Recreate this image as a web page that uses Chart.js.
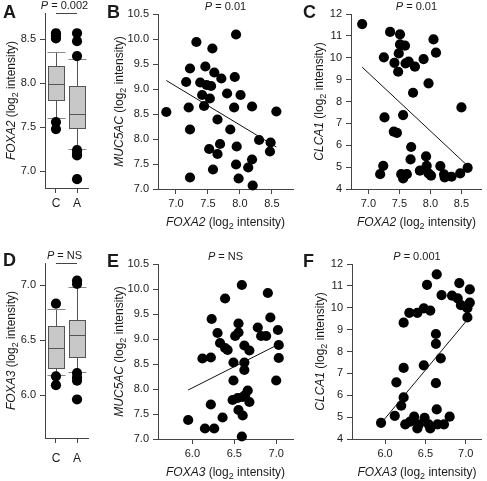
<!DOCTYPE html>
<html>
<head>
<meta charset="utf-8">
<script src="https://cdn.jsdelivr.net/npm/chart.js@4.4.0/dist/chart.umd.min.js"></script>
<style>
  body { margin: 0; background: #fff; }
  #wrap { position: relative; width: 487px; height: 481px; overflow: hidden; }
  canvas { position: absolute; }
</style>
</head>
<body>
<div id="wrap">
  <canvas id="cA" width="110" height="240" style="left:0;top:0"></canvas>
  <canvas id="cB" width="200" height="240" style="left:100px;top:0"></canvas>
  <canvas id="cC" width="187" height="240" style="left:300px;top:0"></canvas>
  <canvas id="cD" width="110" height="241" style="left:0;top:240px"></canvas>
  <canvas id="cE" width="200" height="241" style="left:100px;top:240px"></canvas>
  <canvas id="cF" width="187" height="241" style="left:300px;top:240px"></canvas>
</div>
<script>
// box plot groups: [low whisker, q1, median, q3, high whisker]
const groups = ['C', 'A'];
const foxa2BoxC = [7.61, 7.81, 7.99, 8.20, 8.36];
const foxa2BoxA = [7.25, 7.49, 7.65, 7.97, 8.28];
const foxa2OutC = [8.57, 8.54, 8.51, 7.56, 7.48];
const foxa2OutA = [8.57, 8.48, 8.31, 7.24, 7.20, 7.18, 6.91];
const foxa3BoxC = [6.18, 6.25, 6.43, 6.63, 6.78];
const foxa3BoxA = [6.21, 6.35, 6.55, 6.68, 6.98];
const foxa3OutC = [6.83, 6.17, 6.09];
const foxa3OutA = [7.04, 7.01, 6.20, 6.16, 6.13, 5.96];

// B: FOXA2 vs MUC5AC
const bFoxa2  = [6.85, 7.32, 7.94, 7.57, 7.22, 7.46, 7.60, 7.16, 7.38, 7.48, 7.55, 7.71, 7.92, 7.41, 7.53, 7.80, 8.01, 7.20, 7.44, 7.91,
                 8.19, 8.57, 7.65, 7.22, 7.85, 8.30, 8.48, 8.47, 7.52, 7.69, 7.65, 7.95, 7.94, 7.58, 8.19, 8.13, 7.22, 7.98, 8.20];
const bMuc5ac = [8.54, 9.94, 10.09, 9.81, 9.41, 9.45, 9.33, 9.14, 9.13, 9.08, 9.06, 9.21, 9.24, 8.88, 8.81, 8.91, 8.88, 8.63, 8.66, 8.63,
                 8.65, 8.55, 8.39, 8.19, 8.19, 7.98, 7.93, 7.75, 7.80, 7.90, 7.70, 7.85, 7.49, 7.39, 7.59, 7.43, 7.23, 7.21, 7.07];
const bFitX = [6.85, 8.57];
const bFitY = [9.17, 7.84];

// C: FOXA2 vs CLCA1
const cFoxa2 = [6.90, 7.35, 7.51, 8.05, 7.51, 7.59, 7.49, 8.09, 7.25, 7.42, 7.60, 7.65, 7.89, 7.48, 7.75, 7.97, 7.72, 8.50, 7.26, 7.56,
                7.41, 7.46, 7.69, 7.68, 7.93, 7.24, 7.19, 7.94, 8.16, 8.60, 7.53, 7.56, 7.62, 7.83, 7.97, 8.01, 8.22, 8.23, 8.34, 8.48];
const cClca1 = [11.54, 11.18, 11.07, 10.84, 10.61, 10.55, 10.20, 10.23, 10.02, 9.77, 9.74, 9.82, 9.94, 9.36, 9.59, 8.83, 8.40, 7.73, 7.27, 7.38,
                6.62, 6.57, 5.92, 5.35, 5.49, 5.06, 4.68, 5.06, 5.05, 4.97, 4.68, 4.48, 4.68, 4.84, 4.71, 4.61, 4.67, 4.53, 4.56, 4.71];
const cFitX = [6.90, 8.60];
const cFitY = [9.57, 5.06];

// E: FOXA3 vs MUC5AC
const eFoxa3  = [5.95, 6.15, 6.26, 6.36, 6.22, 6.12, 6.22, 6.23, 6.30, 6.33, 6.39, 6.42, 6.39, 6.59, 6.55, 6.51, 6.55, 6.49, 6.49, 6.48,
                 6.54, 6.60, 6.63, 6.66, 6.68, 6.55, 6.60, 6.59, 6.62, 6.62, 6.62, 6.68, 6.78, 6.82, 6.88, 6.90, 6.93, 7.02, 7.03, 7.03, 7.00];
const eMuc5ac = [7.38, 7.21, 7.21, 7.43, 7.69, 8.61, 8.63, 9.40, 9.12, 8.92, 8.82, 8.78, 9.81, 10.08, 9.31, 9.06, 9.13, 8.53, 8.17, 7.78,
                 7.82, 7.84, 7.88, 7.97, 7.74, 7.58, 7.47, 7.05, 8.53, 8.38, 8.87, 8.77, 9.23, 9.06, 9.06, 9.92, 9.43, 9.18, 8.88, 8.62, 8.17];
const eFitX = [5.95, 7.00];
const eFitY = [7.98, 8.87];

// F: FOXA3 vs CLCA1
const fFoxa3 = [5.95, 6.12, 6.14, 6.20, 6.23, 6.23, 6.23, 6.25, 6.31, 6.36, 6.30, 6.40, 6.40, 6.42, 6.48, 6.56, 6.52, 6.48, 6.49, 6.54,
                6.56, 6.63, 6.63, 6.63, 6.64, 6.64, 6.65, 6.69, 6.70, 6.73, 6.80, 6.83, 6.90, 6.92, 7.05, 7.05, 6.94, 7.02, 7.02];
const fClca1 = [4.74, 5.06, 6.59, 5.52, 5.90, 7.25, 9.32, 4.67, 4.79, 5.02, 9.77, 9.77, 4.48, 4.67, 9.97, 9.87, 11.05, 7.37, 4.97, 4.67,
                4.48, 8.80, 8.35, 6.55, 11.53, 5.35, 4.67, 7.69, 10.58, 4.67, 5.02, 10.55, 10.43, 11.13, 10.84, 10.23, 10.12, 9.98, 9.56];
const fFitX = [5.95, 7.02];
const fFitY = [4.72, 9.45];

// tick labels
const foxa2Ticks  = [7.0, 7.5, 8.0, 8.5];
const foxa3Ticks  = [6.0, 6.5, 7.0];
const muc5acTicks = [7.0, 7.5, 8.0, 8.5, 9.0, 9.5, 10.0, 10.5];
const clca1Ticks  = [4, 5, 6, 7, 8, 9, 10, 11, 12];
const groupTicks  = [1, 2];

const FONT = '"Liberation Sans", Arial, Helvetica, sans-serif';
const INK = '#1a1a1a';
const AXIS = '#444';

function pts(xs, ys) {
    return xs.map((x, i) => ({ x: x, y: ys[i] }));
}

// draw text made of italic / normal / subscript runs, centred on (x, y)
function rich(ctx, parts, x, y, size, vertical) {
    ctx.save();
    ctx.translate(x, y);
    if (vertical) ctx.rotate(-Math.PI / 2);
    const fonts = parts.map(p => (p.i ? 'italic ' : '') + (p.sub ? Math.round(size * 0.72) : size) + 'px ' + FONT);
    let w = 0;
    parts.forEach((p, k) => { ctx.font = fonts[k]; w += ctx.measureText(p.t).width; });
    let cx = -w / 2;
    ctx.textBaseline = 'middle';
    ctx.textAlign = 'left';
    ctx.fillStyle = INK;
    parts.forEach((p, k) => {
        ctx.font = fonts[k];
        ctx.fillText(p.t, cx, p.sub ? size * 0.32 : 0);
        cx += ctx.measureText(p.t).width;
    });
    ctx.restore();
}

function titleParts(gene) {
    return [{ t: gene, i: true }, { t: ' (log' }, { t: '2', sub: true }, { t: ' intensity)' }];
}

function linAxis(min, max, ticks, fmt, size, vertical) {
    return {
        type: 'linear',
        min: min,
        max: max,
        afterBuildTicks: s => { s.ticks = ticks.map(v => ({ value: v })); },
        afterFit: s => { if (vertical) s.width = size; else s.height = size; },
        grid: { drawOnChartArea: false, drawTicks: true, tickLength: 5, tickColor: AXIS, lineWidth: 1 },
        border: { display: true, color: AXIS, width: 1 },
        ticks: {
            color: INK, font: { family: FONT, size: 11 }, padding: vertical ? 4 : 3,
            callback: fmt, autoSkip: false, maxRotation: 0, minRotation: 0
        }
    };
}

// labels: panel letter, P value, axis titles
function textPlugin(o) {
    return {
        id: 'panelText',
        afterDraw(chart) {
            const ctx = chart.ctx, a = chart.chartArea;
            ctx.save();
            ctx.fillStyle = INK;
            ctx.font = 'bold 18px ' + FONT;
            ctx.textAlign = 'left';
            ctx.textBaseline = 'alphabetic';
            ctx.fillText(o.letter, o.letterX, o.letterY);
            let px = (a.left + a.right) / 2;
            if (o.bracket) {
                const x1 = chart.scales.x.getPixelForValue(o.bracket[0]);
                const x2 = chart.scales.x.getPixelForValue(o.bracket[1]);
                ctx.strokeStyle = AXIS;
                ctx.lineWidth = 1;
                ctx.beginPath();
                ctx.moveTo(x1, a.top + 0.5);
                ctx.lineTo(x2, a.top + 0.5);
                ctx.stroke();
                px = (x1 + x2) / 2 - 2;
            }
            rich(ctx, [{ t: 'P', i: true }, { t: ' = ' + o.p }], px, a.top - 7, 11, false);
            if (o.xGene) rich(ctx, titleParts(o.xGene), (a.left + a.right) / 2, a.bottom + 34, 12, false);
            rich(ctx, titleParts(o.yGene), a.left - o.yDx, (a.top + a.bottom) / 2, 12, true);
            ctx.restore();
        }
    };
}

function boxPlugin(boxes) {
    return {
        id: 'boxPlot',
        beforeDatasetsDraw(chart) {
            const ctx = chart.ctx, xs = chart.scales.x, ys = chart.scales.y;
            boxes.forEach((b, i) => {
                const px = Math.round(xs.getPixelForValue(i + 1)) + 0.5;
                const [lo, q1, med, q3, hi] = b.map(v => Math.round(ys.getPixelForValue(v)) + 0.5);
                const hw = 8;
                ctx.save();
                ctx.lineWidth = 1;
                ctx.strokeStyle = '#555';
                ctx.beginPath();
                ctx.moveTo(px, hi); ctx.lineTo(px, q3);
                ctx.moveTo(px, q1); ctx.lineTo(px, lo);
                ctx.stroke();
                ctx.strokeStyle = '#888';
                ctx.beginPath();
                ctx.moveTo(px - hw - 1, hi); ctx.lineTo(px + hw + 1, hi);
                ctx.moveTo(px - hw - 1, lo); ctx.lineTo(px + hw + 1, lo);
                ctx.stroke();
                ctx.fillStyle = '#c8c8c8';
                ctx.fillRect(px - hw, q3, hw * 2, q1 - q3);
                ctx.strokeStyle = '#555';
                ctx.strokeRect(px - hw, q3, hw * 2, q1 - q3);
                ctx.beginPath();
                ctx.moveTo(px - hw, med); ctx.lineTo(px + hw, med);
                ctx.stroke();
                ctx.restore();
            });
        }
    };
}

function dots(data) {
    return { data: data, pointRadius: 5.1, pointHoverRadius: 5.1, backgroundColor: '#000', borderWidth: 0, clip: false };
}

function fit(xs, ys) {
    return { data: pts(xs, ys), showLine: true, borderColor: '#111', borderWidth: 1, pointRadius: 0, clip: false };
}

// p: panel geometry in page pixels; area = plot area in page pixels
function makePanel(id, p, datasets, xScale, yScale, extraPlugins) {
    const xH = 30;
    return new Chart(document.getElementById(id), {
        type: 'scatter',
        data: { datasets: datasets },
        options: {
            responsive: false,
            animation: false,
            events: [],
            layout: {
                padding: {
                    left: 0,
                    top: p.area.t - p.top,
                    right: p.left + p.w - p.area.r,
                    bottom: p.top + p.h - p.area.b - xH
                }
            },
            plugins: { legend: { display: false }, tooltip: { enabled: false } },
            scales: { x: xScale(xH), y: yScale(p.area.l - p.left) }
        },
        plugins: extraPlugins
    });
}

const f1 = v => v.toFixed(1);
const f0 = v => v.toFixed(0);
const fg = v => groups[v - 1];

// A
makePanel('cA', { left: 0, top: 0, w: 110, h: 240, area: { l: 45, r: 88, t: 13, b: 188 } },
    [dots(foxa2OutC.map(v => ({ x: 1, y: v })).concat(foxa2OutA.map(v => ({ x: 2, y: v }))))],
    h => { const s = linAxis(0.48, 2.52, groupTicks, fg, h, false); s.ticks.font.size = 12; return s; },
    w => linAxis(6.81, 8.8, foxa2Ticks, f1, w, true),
    [boxPlugin([foxa2BoxC, foxa2BoxA]), textPlugin({ letter: 'A', letterX: 3, letterY: 18, p: '0.002', bracket: [1, 2], yGene: 'FOXA2', yDx: 33 })]);

// B
makePanel('cB', { left: 100, top: 0, w: 200, h: 240, area: { l: 158, r: 293, t: 14, b: 189 } },
    [fit(bFitX, bFitY), dots(pts(bFoxa2, bMuc5ac))],
    h => linAxis(6.72, 8.83, foxa2Ticks, f1, h, false),
    w => linAxis(7, 10.5, muc5acTicks, f1, w, true),
    [textPlugin({ letter: 'B', letterX: 7, letterY: 18, p: '0.01', xGene: 'FOXA2', yGene: 'MUC5AC', yDx: 38 })]);

// C
makePanel('cC', { left: 300, top: 0, w: 187, h: 240, area: { l: 351, r: 486, t: 14, b: 189 } },
    [fit(cFitX, cFitY), dots(pts(cFoxa2, cClca1))],
    h => linAxis(6.72, 8.83, foxa2Ticks, f1, h, false),
    w => linAxis(4, 12, clca1Ticks, f0, w, true),
    [textPlugin({ letter: 'C', letterX: 3, letterY: 18, p: '0.01', xGene: 'FOXA2', yGene: 'CLCA1', yDx: 31 })]);

// D
makePanel('cD', { left: 0, top: 240, w: 110, h: 241, area: { l: 45, r: 88, t: 263, b: 438 } },
    [dots(foxa3OutC.map(v => ({ x: 1, y: v })).concat(foxa3OutA.map(v => ({ x: 2, y: v }))))],
    h => { const s = linAxis(0.48, 2.52, groupTicks, fg, h, false); s.ticks.font.size = 12; s.ticks.padding = 8; return s; },
    w => linAxis(5.61, 7.2, foxa3Ticks, f1, w, true),
    [boxPlugin([foxa3BoxC, foxa3BoxA]), textPlugin({ letter: 'D', letterX: 3, letterY: 26, p: 'NS', bracket: [1, 2], yGene: 'FOXA3', yDx: 33 })]);

// E
makePanel('cE', { left: 100, top: 240, w: 200, h: 241, area: { l: 158, r: 293, t: 264, b: 439 } },
    [fit(eFitX, eFitY), dots(pts(eFoxa3, eMuc5ac))],
    h => linAxis(5.59, 7.2, foxa3Ticks, f1, h, false),
    w => linAxis(7, 10.5, muc5acTicks, f1, w, true),
    [textPlugin({ letter: 'E', letterX: 7, letterY: 27, p: 'NS', xGene: 'FOXA3', yGene: 'MUC5AC', yDx: 38 })]);

// F
makePanel('cF', { left: 300, top: 240, w: 187, h: 241, area: { l: 352, r: 486, t: 264, b: 439 } },
    [fit(fFitX, fFitY), dots(pts(fFoxa3, fClca1))],
    h => linAxis(5.59, 7.2, foxa3Ticks, f1, h, false),
    w => linAxis(4, 12, clca1Ticks, f0, w, true),
    [textPlugin({ letter: 'F', letterX: 3, letterY: 27, p: '0.001', xGene: 'FOXA3', yGene: 'CLCA1', yDx: 31 })]);
</script>
</body>
</html>
